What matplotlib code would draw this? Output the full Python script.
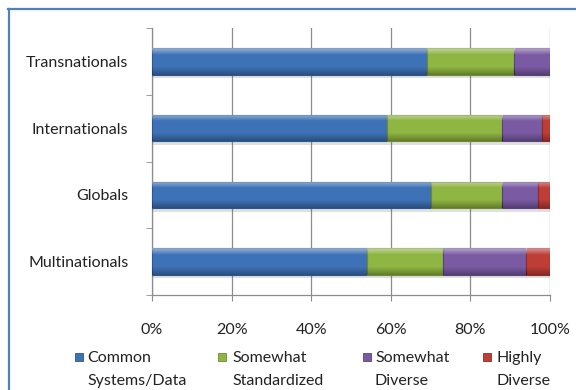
import numpy as np
import matplotlib
matplotlib.use("Agg")
import matplotlib.pyplot as plt
import matplotlib.patheffects as pe
from matplotlib.patches import Rectangle
from matplotlib.lines import Line2D

# categories listed bottom to top
categorias = ["Multinationals", "Globals", "Internationals", "Transnationals"]
series = ["Common\nSystems/Data", "Somewhat\nStandardized", "Somewhat\nDiverse", "Highly\nDiverse"]
common_systems = [54, 70, 59, 69]
somewhat_std = [19, 18, 29, 22]
somewhat_div = [21, 9, 10, 9]
highly_div = [6, 3, 2, 0]
xticks = [0, 20, 40, 60, 80, 100]
xtick_labels = ["0%", "20%", "40%", "60%", "80%", "100%"]

cores = ["#3e72b7", "#8fb542", "#7a5ba3", "#bf3d37"]
bordas = ["#2c5690", "#6d8c30", "#5a4180", "#8e2c27"]

plt.rcParams["font.family"] = ["Lato", "DejaVu Sans"]
plt.rcParams["font.size"] = 11.5

W, H = 576, 390
fig = plt.figure(figsize=(W / 100, H / 100), dpi=100)
ax = fig.add_axes([152 / W, 1 - 295 / H, (550 - 152) / W, (295 - 28) / H])

valores = [common_systems, somewhat_std, somewhat_div, highly_div]
y = np.arange(len(categorias))
esquerda = np.zeros(len(categorias))
sombra = [pe.SimplePatchShadow(offset=(0, -2.5), alpha=0.18, shadow_rgbFace="#555555"), pe.Normal()]

for vals, cor, borda in zip(valores, cores, bordas):
    barras = ax.barh(y, vals, left=esquerda, height=0.4, color=cor,
                     edgecolor=borda, linewidth=0.8, zorder=3)
    for b in barras:
        b.set_path_effects(sombra)
        bx, by = b.get_x(), b.get_y()
        bw, bh = b.get_width(), b.get_height()
        if bw <= 0:
            continue
        # brilho em cima, escurece embaixo (efeito bisel)
        t = np.linspace(0, 1, 40)
        alpha_claro = np.clip(0.45 * (1 - t / 0.25), 0, None)
        alpha_escuro = np.clip(0.30 * (t - 0.7) / 0.3, 0, None)
        grad = np.zeros((40, 2, 4))
        grad[:, :, :3] = np.where((alpha_claro > 0)[:, None, None], 1.0, 0.0)
        grad[:, :, 3] = (alpha_claro + alpha_escuro)[:, None]
        img = ax.imshow(grad, extent=[bx, bx + bw, by, by + bh], aspect="auto",
                        origin="upper", interpolation="bilinear", zorder=3.5)
        img.set_clip_path(b)
    esquerda += np.array(vals)

ax.set_xlim(0, 100)
ax.set_ylim(-0.5, len(categorias) - 0.5)
ax.set_aspect("auto")

ax.set_xticks(xticks)
ax.set_xticklabels(xtick_labels)
ax.set_yticks(y)
ax.set_yticklabels(categorias)
ax.set_yticks(np.arange(-0.5, len(categorias)), minor=True)

ax.grid(axis="x", color="#8c8c8c", linewidth=0.9, zorder=0)
ax.set_axisbelow(True)
for lado in ["top", "right"]:
    ax.spines[lado].set_visible(False)
for lado in ["left", "bottom"]:
    ax.spines[lado].set_color("#8c8c8c")
    ax.spines[lado].set_linewidth(0.9)

ax.tick_params(axis="x", length=4, color="#8c8c8c", pad=16, labelcolor="#222222")
ax.tick_params(axis="y", which="major", length=0, pad=17, labelcolor="#222222")
ax.tick_params(axis="y", which="minor", length=4.5, color="#8c8c8c")

# legenda feita a mao: quadradinho alinhado com a primeira linha
marc_x = [75, 218, 363, 483]
texto_x = [87, 232, 375, 497]
for nome, cor, borda, mx, tx in zip(series, cores, bordas, marc_x, texto_x):
    fig.patches.append(Rectangle((mx / W, 1 - 361 / H), 8 / W, 8 / H, transform=fig.transFigure,
                                 facecolor=cor, edgecolor=borda, linewidth=0.6))
    l1, l2 = nome.split("\n")
    fig.text(tx / W, 1 - 358 / H, l1, va="center", ha="left", color="#222222")
    fig.text(tx / W, 1 - 381 / H, l2, va="center", ha="left", color="#222222")

# moldura azul do grafico
azul = "#4f81bd"
fig.add_artist(Line2D([8 / W, 1], [1 - 8.5 / H, 1 - 8.5 / H], transform=fig.transFigure, color=azul, linewidth=1.6))
fig.add_artist(Line2D([8.5 / W, 8.5 / W], [0, 1 - 8.5 / H], transform=fig.transFigure, color=azul, linewidth=1.6))

fig.savefig("out.png", dpi=100, facecolor="white")
